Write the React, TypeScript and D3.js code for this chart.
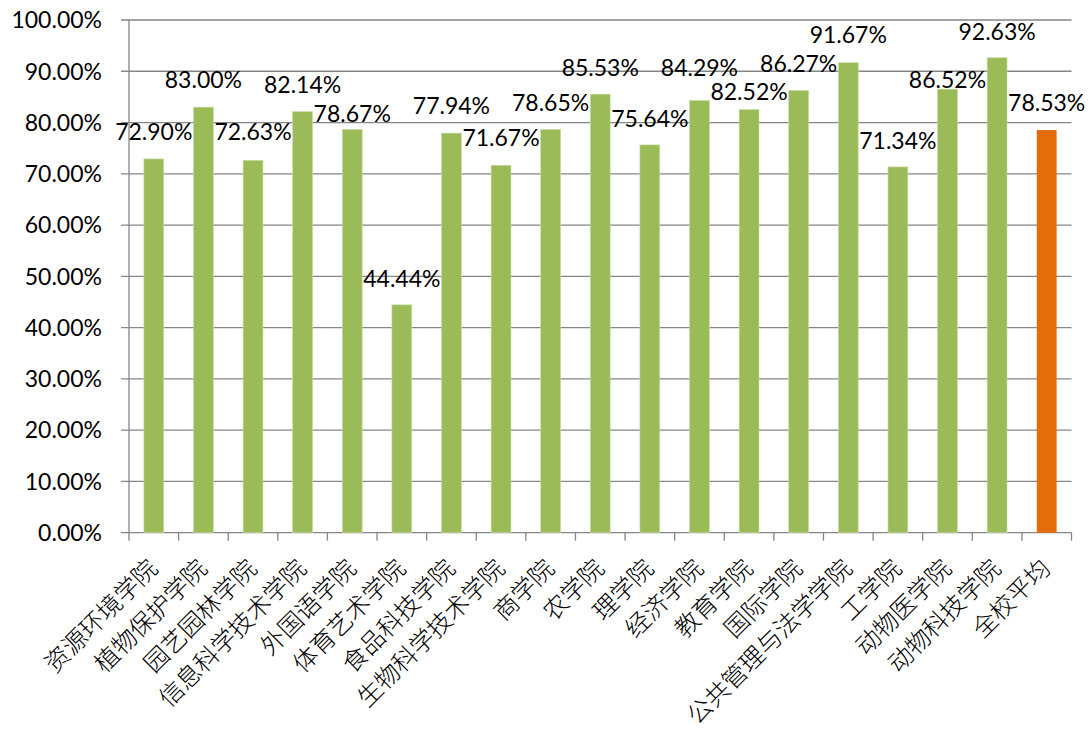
import React from "react";
import * as d3 from "d3";

const categories = [
  "资源环境学院", "植物保护学院", "园艺园林学院", "信息科学技术学院", "外国语学院",
  "体育艺术学院", "食品科技学院", "生物科学技术学院", "商学院", "农学院",
  "理学院", "经济学院", "教育学院", "国际学院", "公共管理与法学学院",
  "工学院", "动物医学院", "动物科技学院", "全校平均",
];
const values = [
  72.90, 83.00, 72.63, 82.14, 78.67,
  44.44, 77.94, 71.67, 78.65, 85.53,
  75.64, 84.29, 82.52, 86.27, 91.67,
  71.34, 86.52, 92.63, 78.53,
];
const yTicks = [0, 10, 20, 30, 40, 50, 60, 70, 80, 90, 100];
const highlight = "全校平均";

// layout only: how far (px) each data label's centre sits above its bar top
const labelLift = [
  27.5, 27, 29, 27, 16,
  26, 27, 28, 26.5, 26,
  26, 32.5, 17.6, 27, 27.7,
  26, 9, 26, 27,
];

const W = 1090, H = 735;
const left = 129, right = 1071.5, top = 20, bottom = 532.7;

export default function App() {
  const x = d3.scaleBand<string>().domain(categories).range([left, right]).paddingInner(0.6).paddingOuter(0.3);
  const xb = d3.scaleBand<string>().domain(categories).range([left, right]);
  const y = d3.scaleLinear().domain([0, 100]).range([bottom, top]);
  const numFont = "Lato, 'Open Sans', sans-serif";
  return (
    <svg width={W} height={H} style={{ position: "absolute", left: 0, top: 0, background: "#fff" }}>
      {yTicks.map((t) => (
        <g key={t}>
          <line x1={left - 8} x2={right} y1={y(t)} y2={y(t)} stroke="#868686" strokeWidth={1.3} />
          <text x={102} y={y(t)} dy="0.36em" textAnchor="end" fontFamily={numFont} fontSize={23} fill="#000">
            {t.toFixed(2) + "%"}
          </text>
        </g>
      ))}
      <line x1={left} x2={left} y1={top} y2={bottom + 8} stroke="#868686" strokeWidth={1.3} />
      {categories.map((c, i) => (
        <line key={"t" + i} x1={(xb(c) as number) + xb.bandwidth()} x2={(xb(c) as number) + xb.bandwidth()} y1={bottom} y2={bottom + 8} stroke="#868686" strokeWidth={1.3} />
      ))}
      {categories.map((c, i) => {
        const v = values[i];
        const bx = x(c) as number;
        const cx = bx + x.bandwidth() / 2;
        return (
          <g key={c}>
            <rect x={bx} y={y(v)} width={x.bandwidth()} height={bottom - y(v)}
              fill={c === highlight ? "#E46C0A" : "#9BBB59"} stroke={c === highlight ? "none" : "#C9DBA5"} strokeWidth={0.6} />
            <text x={cx} y={y(v) - labelLift[i]} dy="0.36em" textAnchor="middle" fontFamily={numFont} fontSize={23} fill="#000">
              {v.toFixed(2) + "%"}
            </text>
            <text transform={`translate(${cx - 1},${bottom + 31}) rotate(-45)`} textAnchor="end" dy="0.36em"
              fontFamily="'Noto Sans CJK SC', sans-serif" fontWeight={300} fontSize={24.5} fill="#000">
              {c}
            </text>
          </g>
        );
      })}
    </svg>
  );
}
